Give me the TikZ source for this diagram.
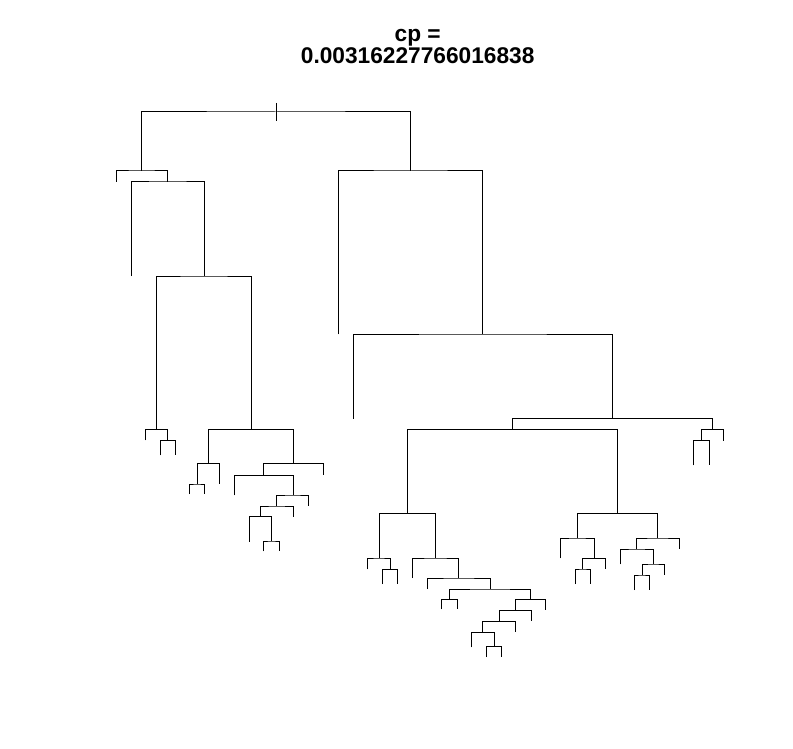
\documentclass[tikz,border=0pt]{standalone}
\usepackage{fontspec}
\setmainfont{Liberation Sans}
\begin{document}
\begin{tikzpicture}[x=1pt,y=-1pt,
  branch/.style={draw=black,line width=1pt},
  titletext/.style={font=\fontsize{22.7}{24}\selectfont\bfseries,anchor=base,inner sep=0pt}]
\useasboundingbox[fill=white] (0,0) rectangle (793,749);
% title
\node[titletext] (t1) at (417.7,41.7) {cp =};
\node[titletext] (t2) at (417.7,63.3) {0.00316227766016838};
% root
\coordinate (R) at (276,112);
\coordinate (Rt) at (276,103);
\coordinate (Rb) at (276,121);
\coordinate (A) at (141.5,171);
\coordinate (B) at (410.7,171);
% left side
\coordinate (a1) at (116,182);
\coordinate (A2) at (167.5,182);
\coordinate (a2) at (131,276);
\coordinate (C) at (204,276);
\coordinate (C1) at (156.5,429.7);
\coordinate (C2) at (251,429.7);
\coordinate (c1) at (145.7,440.3);
\coordinate (C1b) at (167.3,440.3);
\coordinate (c2) at (160,455.3);
\coordinate (c3) at (175,455.3);
\coordinate (D) at (208.7,463.7);
\coordinate (E) at (293.3,463.7);
\coordinate (D1) at (197.3,484);
\coordinate (d1) at (219.3,484.3);
\coordinate (d2) at (189.7,494);
\coordinate (d3) at (204.7,494);
\coordinate (E1) at (263.3,475.3);
\coordinate (e1) at (323.3,475.3);
\coordinate (e2) at (234.3,495.3);
\coordinate (E2) at (293,495);
\coordinate (E3) at (276.7,506);
\coordinate (e3) at (308.7,506);
\coordinate (E4) at (260.3,516.7);
\coordinate (e4) at (293.7,516.7);
\coordinate (e5) at (249,541.5);
\coordinate (E5) at (271.7,541);
\coordinate (e6) at (263.7,551.3);
\coordinate (e7) at (279,551.3);
% right side
\coordinate (b1) at (338.3,334.3);
\coordinate (F) at (482.7,334);
\coordinate (f1) at (353,418.7);
\coordinate (G) at (612.3,418.7);
\coordinate (H) at (512.3,429.5);
\coordinate (K) at (712.7,429.7);
\coordinate (K1) at (701.3,440.3);
\coordinate (k1) at (723.7,440.7);
\coordinate (k2) at (693.7,465.3);
\coordinate (k3) at (709,465.3);
\coordinate (I) at (407.2,513.7);
\coordinate (J) at (617.7,513.7);
\coordinate (I1) at (379,558);
\coordinate (I2) at (435.5,558);
\coordinate (i1) at (367.7,569.3);
\coordinate (I1b) at (390.3,569.3);
\coordinate (i2) at (382.7,584);
\coordinate (i3) at (397.3,584);
\coordinate (i4) at (412.3,578);
\coordinate (I3) at (458.7,578);
\coordinate (i5) at (427,589);
\coordinate (I5) at (490,589);
\coordinate (I6) at (449.3,599.3);
\coordinate (I7) at (530.7,599.3);
\coordinate (i6) at (441.7,609.3);
\coordinate (i7) at (457,609.3);
\coordinate (I8) at (515,610.3);
\coordinate (i8) at (545.7,610.3);
\coordinate (I9) at (499.3,621.3);
\coordinate (i9) at (531,621.3);
\coordinate (I10) at (482.7,632.3);
\coordinate (i10) at (515.7,632.3);
\coordinate (i11) at (471.3,647.3);
\coordinate (I11) at (494,646.7);
\coordinate (i12) at (486.7,657);
\coordinate (i13) at (501.3,657);
\coordinate (J1) at (577.3,538);
\coordinate (J2) at (657.7,538);
\coordinate (j1) at (560.7,558.3);
\coordinate (J1b) at (594,558.3);
\coordinate (J1c) at (582.7,569);
\coordinate (j2) at (605.3,569);
\coordinate (j3) at (575.3,584);
\coordinate (j4) at (590.3,584);
\coordinate (J3) at (636.7,549);
\coordinate (j5) at (679.3,549.3);
\coordinate (j6) at (620,564.3);
\coordinate (J4) at (653.3,564);
\coordinate (J5) at (642,575);
\coordinate (j7) at (664.7,575);
\coordinate (j8) at (634.7,590);
\coordinate (j9) at (649.7,590);
% branches
\draw[branch] (Rt) -- (Rb);
\draw[branch] (A) |- (R) -| (B);
\draw[branch] (a1) |- (A) -| (A2);
\draw[branch] (a2) |- (A2) -| (C);
\draw[branch] (C1) |- (C) -| (C2);
\draw[branch] (c1) |- (C1) -| (C1b);
\draw[branch] (c2) |- (C1b) -| (c3);
\draw[branch] (D) |- (C2) -| (E);
\draw[branch] (D1) |- (D) -| (d1);
\draw[branch] (d2) |- (D1) -| (d3);
\draw[branch] (E1) |- (E) -| (e1);
\draw[branch] (e2) |- (E1) -| (E2);
\draw[branch] (E3) |- (E2) -| (e3);
\draw[branch] (E4) |- (E3) -| (e4);
\draw[branch] (e5) |- (E4) -| (E5);
\draw[branch] (e6) |- (E5) -| (e7);
\draw[branch] (b1) |- (B) -| (F);
\draw[branch] (f1) |- (F) -| (G);
\draw[branch] (H) |- (G) -| (K);
\draw[branch] (K1) |- (K) -| (k1);
\draw[branch] (k2) |- (K1) -| (k3);
\draw[branch] (I) |- (H) -| (J);
\draw[branch] (I1) |- (I) -| (I2);
\draw[branch] (i1) |- (I1) -| (I1b);
\draw[branch] (i2) |- (I1b) -| (i3);
\draw[branch] (i4) |- (I2) -| (I3);
\draw[branch] (i5) |- (I3) -| (I5);
\draw[branch] (I6) |- (I5) -| (I7);
\draw[branch] (i6) |- (I6) -| (i7);
\draw[branch] (I8) |- (I7) -| (i8);
\draw[branch] (I9) |- (I8) -| (i9);
\draw[branch] (I10) |- (I9) -| (i10);
\draw[branch] (i11) |- (I10) -| (I11);
\draw[branch] (i12) |- (I11) -| (i13);
\draw[branch] (J1) |- (J) -| (J2);
\draw[branch] (j1) |- (J1) -| (J1b);
\draw[branch] (J1c) |- (J1b) -| (j2);
\draw[branch] (j3) |- (J1c) -| (j4);
\draw[branch] (J3) |- (J2) -| (j5);
\draw[branch] (j6) |- (J3) -| (J4);
\draw[branch] (J5) |- (J4) -| (j7);
\draw[branch] (j8) |- (J5) -| (j9);
\end{tikzpicture}
\end{document}
